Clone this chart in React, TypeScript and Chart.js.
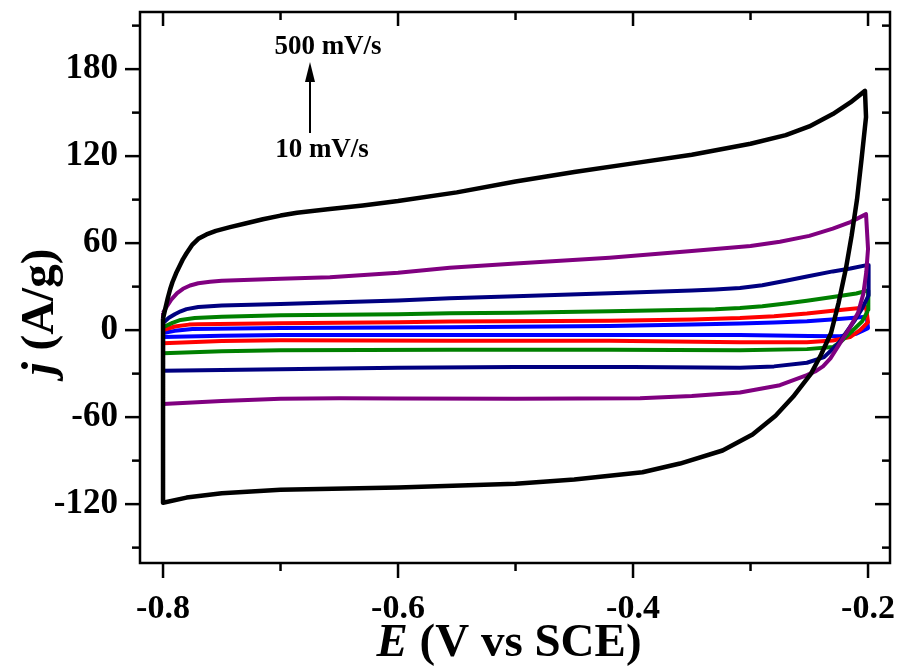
import React, { useEffect, useRef } from 'react';
import { Chart, registerables } from 'chart.js';

Chart.register(...registerables);

// ---- axis ticks ----
const xMajorTicks = [-0.8, -0.6, -0.4, -0.2];
const xMinorTicks = [-0.7, -0.5, -0.3];
const yMajorTicks = [-120, -60, 0, 60, 120, 180];
const yMinorTicks = [-150, -90, -30, 30, 90, 150, 210];
const xRange = [-0.8196, -0.1813];
const yRange = [-160.6, 219.4];

// ---- series (E in V vs SCE, j in A/g) ----
const scanRates = ['500 mV/s', '200 mV/s', '100 mV/s', '50 mV/s', '20 mV/s', '10 mV/s'];
const seriesColors = ['#000000', '#800080', '#000080', '#008000', '#ff0000', '#0000ff'];

const cv500: [number, number][] = [
  [-0.8, 8], [-0.798, 15], [-0.796, 22], [-0.794, 28], [-0.792, 33], [-0.789, 39], [-0.786, 44],
  [-0.783, 49], [-0.78, 53], [-0.775, 59], [-0.77, 63], [-0.763, 66], [-0.755, 68.5],
  [-0.743, 71], [-0.73, 73.5], [-0.715, 76.5], [-0.7, 79], [-0.686, 81], [-0.658, 83.5],
  [-0.63, 86], [-0.6, 89], [-0.55, 95], [-0.5, 102.5], [-0.45, 109], [-0.4, 115], [-0.35, 121],
  [-0.3, 128.5], [-0.27, 134.5], [-0.25, 140.5], [-0.23, 149], [-0.215, 157], [-0.2026, 165],
  [-0.2017, 147], [-0.2055, 118], [-0.2094, 90], [-0.214, 65], [-0.2187, 43], [-0.225, 19],
  [-0.2315, -2], [-0.24, -17], [-0.2485, -30], [-0.2638, -46], [-0.2787, -59], [-0.2983, -72],
  [-0.3238, -83], [-0.36, -92], [-0.392, -98], [-0.45, -103], [-0.5, -106], [-0.6, -108.5],
  [-0.7, -110], [-0.75, -112.5], [-0.78, -115.5], [-0.8, -119], [-0.8, 8],
];

const cv200: [number, number][] = [
  [-0.8, 12], [-0.797, 16], [-0.793, 21], [-0.788, 25.5], [-0.783, 28.5], [-0.777, 30.8],
  [-0.77, 32.3], [-0.76, 33.3], [-0.75, 34], [-0.7, 35.5], [-0.658, 36.5], [-0.6, 39.5],
  [-0.556, 43], [-0.5, 46], [-0.42, 50], [-0.35, 54.5], [-0.3, 58], [-0.275, 61], [-0.25, 65],
  [-0.23, 70], [-0.215, 74.5], [-0.2017, 80], [-0.2, 56], [-0.2015, 40], [-0.204, 25],
  [-0.2085, 12], [-0.2153, 2], [-0.2238, -9], [-0.232, -19.5], [-0.2383, -25], [-0.245, -28.5],
  [-0.252, -31], [-0.275, -38], [-0.309, -43], [-0.35, -45.5], [-0.394, -47], [-0.5, -47.3],
  [-0.6, -47.1], [-0.65, -47], [-0.7, -47.3], [-0.75, -48.8], [-0.8, -51], [-0.8, 12],
];

const cv100: [number, number][] = [
  [-0.8, 5], [-0.795, 8.5], [-0.79, 11], [-0.785, 13], [-0.78, 14.5], [-0.77, 16], [-0.75, 17],
  [-0.7, 18], [-0.6, 20.5], [-0.556, 22], [-0.5, 23.3], [-0.42, 25.5], [-0.35, 27.3],
  [-0.33, 28], [-0.309, 29], [-0.29, 31], [-0.27, 34], [-0.252, 37], [-0.23, 40.5],
  [-0.215, 42.5], [-0.2, 45], [-0.1995, 24], [-0.205, 15], [-0.2111, 7], [-0.225, -9],
  [-0.2374, -18.6], [-0.252, -22.5], [-0.28, -25], [-0.309, -26], [-0.4, -25.5], [-0.5, -25.5],
  [-0.6, -26], [-0.7, -27], [-0.8, -28], [-0.8, 5],
];

const cv50: [number, number][] = [
  [-0.8, 2], [-0.792, 5], [-0.785, 7], [-0.773, 8.3], [-0.75, 9.3], [-0.7, 10.3], [-0.6, 11],
  [-0.556, 11.7], [-0.5, 12], [-0.42, 13], [-0.35, 14], [-0.33, 14.4], [-0.309, 15.2],
  [-0.29, 16.5], [-0.27, 18.3], [-0.252, 20.2], [-0.23, 22.8], [-0.21, 25.3], [-0.2, 27.4],
  [-0.1995, 20.7], [-0.2, 14], [-0.205, 6], [-0.2153, -2], [-0.2225, -7.5], [-0.2298, -11.7],
  [-0.252, -13.1], [-0.309, -13.8], [-0.42, -13.5], [-0.556, -13.5], [-0.7, -13.8],
  [-0.75, -14.5], [-0.8, -16], [-0.8, 2],
];

const cv20: [number, number][] = [
  [-0.8, 0], [-0.79, 2.5], [-0.778, 3.8], [-0.77, 4.1], [-0.7, 4.8], [-0.6, 5.5], [-0.556, 6],
  [-0.42, 6.5], [-0.35, 7.4], [-0.309, 8.3], [-0.28, 9.6], [-0.252, 11.4], [-0.23, 13.3],
  [-0.2068, 15.2], [-0.2017, 16], [-0.2, 5.5], [-0.2068, 0], [-0.2153, -4.8], [-0.23, -7.2],
  [-0.252, -8.3], [-0.309, -8.3], [-0.42, -7.3], [-0.556, -7.3], [-0.7, -7.0], [-0.75, -7.5],
  [-0.8, -9], [-0.8, 0],
];

const cv10: [number, number][] = [
  [-0.8, -2], [-0.79, -0.5], [-0.775, 0.7], [-0.7, 1.4], [-0.556, 2], [-0.42, 2.8],
  [-0.35, 3.8], [-0.309, 4.6], [-0.28, 5.3], [-0.252, 6.2], [-0.225, 7.6], [-0.2011, 9.2],
  [-0.2, 1.4], [-0.21, -2.5], [-0.2238, -4.2], [-0.25, -4], [-0.309, -3.4], [-0.42, -3.4],
  [-0.556, -3.4], [-0.7, -3.4], [-0.75, -3.8], [-0.8, -4.8], [-0.8, -2],
];

const seriesData = [cv500, cv200, cv100, cv50, cv20, cv10];
const seriesWidths = [4.5, 4, 4, 4, 4, 4];

const SERIF = '"Liberation Serif", "Times New Roman", serif';

const framePlugin = {
  id: 'frame',
  afterDatasetsDraw(chart: any) {
    const { ctx, chartArea: a, scales } = chart;
    const x = scales.x;
    const y = scales.y;
    ctx.save();
    ctx.strokeStyle = '#000';
    ctx.lineWidth = 2.5;
    ctx.lineCap = 'butt';
    ctx.strokeRect(a.left, a.top, a.right - a.left, a.bottom - a.top);
    const seg = (x1: number, y1: number, x2: number, y2: number) => {
      ctx.beginPath();
      ctx.moveTo(x1, y1);
      ctx.lineTo(x2, y2);
      ctx.stroke();
    };
    xMajorTicks.forEach((v) => {
      const p = x.getPixelForValue(v);
      seg(p, a.bottom, p, a.bottom + 15);
      seg(p, a.top, p, a.top + 14);
    });
    xMinorTicks.forEach((v) => {
      const p = x.getPixelForValue(v);
      seg(p, a.bottom, p, a.bottom + 8);
      seg(p, a.top, p, a.top + 8);
    });
    yMajorTicks.forEach((v) => {
      const p = y.getPixelForValue(v);
      seg(a.left - 15, p, a.left, p);
      seg(a.right - 15, p, a.right, p);
    });
    yMinorTicks.forEach((v) => {
      const p = y.getPixelForValue(v);
      seg(a.left - 8, p, a.left, p);
      seg(a.right - 8, p, a.right, p);
    });
    ctx.restore();
  },
  afterDraw(chart: any) {
    const { ctx } = chart;
    ctx.save();
    ctx.fillStyle = '#000';
    ctx.textBaseline = 'alphabetic';
    // x title
    const italic = `italic bold 47px ${SERIF}`;
    const bold = `bold 47px ${SERIF}`;
    ctx.font = italic;
    const wE = ctx.measureText('E').width;
    ctx.font = bold;
    const wRest = ctx.measureText(' (V vs SCE)').width;
    const sx = 509 - (wE + wRest) / 2;
    ctx.font = italic;
    ctx.fillText('E', sx, 656);
    ctx.font = bold;
    ctx.fillText(' (V vs SCE)', sx + wE, 656);
    // y title
    ctx.save();
    ctx.translate(53, 312);
    ctx.rotate(-Math.PI / 2);
    ctx.font = italic;
    const wj = ctx.measureText('j').width;
    ctx.font = bold;
    const wR = ctx.measureText(' (A/g)').width;
    const sy = -(wj + wR) / 2;
    ctx.font = italic;
    ctx.fillText('j', sy, 0);
    ctx.font = bold;
    ctx.fillText(' (A/g)', sy + wj, 0);
    ctx.restore();
    // annotation
    ctx.font = `bold 27px ${SERIF}`;
    ctx.textAlign = 'center';
    ctx.fillText(scanRates[0], 328, 54);
    ctx.fillText(scanRates[5], 322, 157);
    ctx.lineWidth = 2;
    ctx.beginPath();
    ctx.moveTo(310, 133);
    ctx.lineTo(310, 78);
    ctx.stroke();
    ctx.beginPath();
    ctx.moveTo(310, 62);
    ctx.lineTo(305, 82);
    ctx.lineTo(315, 82);
    ctx.closePath();
    ctx.fill();
    ctx.restore();
  },
};

const zeroPad = (axis: any) => {
  axis.paddingLeft = 0;
  axis.paddingRight = 0;
  axis.paddingTop = 0;
  axis.paddingBottom = 0;
};

export default function App() {
  const ref = useRef<HTMLCanvasElement | null>(null);
  useEffect(() => {
    document.body.style.margin = '0';
    const canvas = ref.current;
    if (!canvas) return;
    const chart = new Chart(canvas, {
      type: 'scatter',
      data: {
        datasets: seriesData.map((pts, i) => ({
          label: scanRates[i],
          data: pts.map(([e, j]) => ({ x: e, y: j })),
          showLine: true,
          borderColor: seriesColors[i],
          backgroundColor: seriesColors[i],
          borderWidth: seriesWidths[i],
          borderJoinStyle: 'round',
          pointRadius: 0,
          tension: 0,
          fill: false,
        })),
      },
      options: {
        animation: false,
        responsive: false,
        devicePixelRatio: 1,
        layout: { padding: { top: 12, right: 9, left: 0, bottom: 0 } },
        plugins: { legend: { display: false }, tooltip: { enabled: false } },
        scales: {
          x: {
            type: 'linear',
            position: 'bottom',
            min: xRange[0],
            max: xRange[1],
            grid: { display: false, drawTicks: false },
            border: { display: false },
            afterBuildTicks: (axis: any) => {
              axis.ticks = xMajorTicks.map((v) => ({ value: v }));
            },
            afterFit: (axis: any) => {
              axis.height = 104;
              zeroPad(axis);
            },
            ticks: {
              color: '#000',
              padding: 26,
              font: { family: SERIF, weight: 'bold', size: 34 },
              maxRotation: 0,
              callback: (v: any) => Number(v).toFixed(1),
            },
          },
          y: {
            type: 'linear',
            position: 'left',
            min: yRange[0],
            max: yRange[1],
            grid: { display: false, drawTicks: false },
            border: { display: false },
            afterBuildTicks: (axis: any) => {
              axis.ticks = yMajorTicks.map((v) => ({ value: v }));
            },
            afterFit: (axis: any) => {
              axis.width = 140;
              zeroPad(axis);
            },
            ticks: {
              color: '#000',
              padding: 22,
              font: { family: SERIF, weight: 'bold', size: 35 },
              callback: (v: any) => String(v),
            },
          },
        },
      },
      plugins: [framePlugin],
    } as any);
    return () => chart.destroy();
  }, []);
  return <canvas ref={ref} width={899} height={667} style={{ display: 'block' }} />;
}
